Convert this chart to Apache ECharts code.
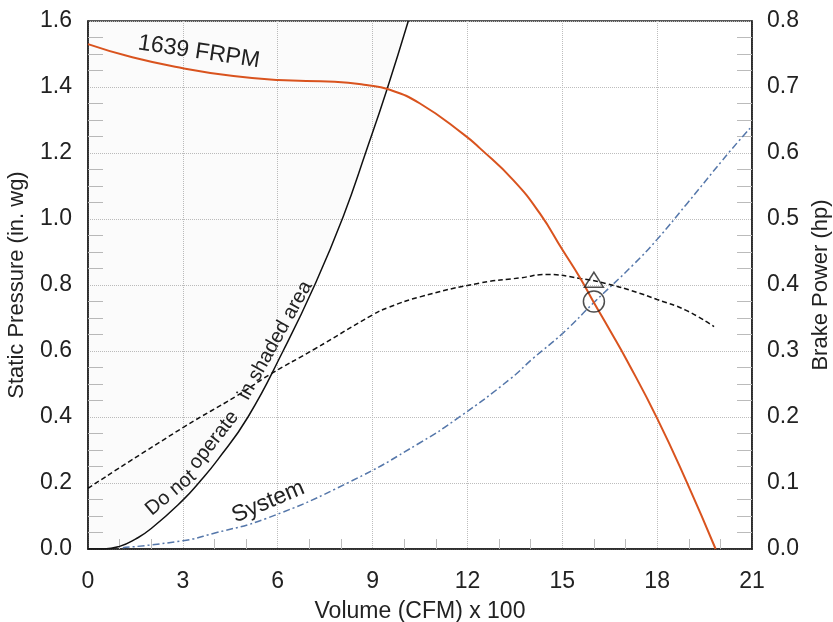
<!DOCTYPE html>
<html><head><meta charset="utf-8">
<script src="https://cdn.jsdelivr.net/npm/echarts@6/dist/echarts.min.js"></script>
<style>html,body{margin:0;padding:0;background:#fff}#c{width:833px;height:622px}</style>
</head><body><div id="c"></div>
<script>
// ---- data ----
const xTicks = [0, 3, 6, 9, 12, 15, 18, 21];
const spTicks = [0, 0.2, 0.4, 0.6, 0.8, 1.0, 1.2, 1.4, 1.6];
const bhpTicks = [0, 0.1, 0.2, 0.3, 0.4, 0.5, 0.6, 0.7, 0.8];

// fan curve 1639 FRPM: static pressure (in. wg) vs volume (CFM x 100)
const fanX  = [0, 1.4, 3.0, 4.6, 6.0, 7.8, 8.8, 9.5, 10.5, 11.9, 12.4, 13.45, 14.29, 15.01, 15.56, 15.98, 16.51, 17.04, 18.0, 18.93, 19.85];
const fanSP = [1.53, 1.49, 1.457, 1.433, 1.421, 1.416, 1.406, 1.393, 1.35, 1.255, 1.214, 1.118, 1.017, 0.906, 0.822, 0.75, 0.662, 0.572, 0.396, 0.204, 0.0];

// "do not operate" limit curve (static pressure)
const limX  = [0, 0.5, 1.0, 1.5, 2.0, 3.0, 3.5, 4.1, 5.06, 6.17, 7.17, 8.07, 8.81, 9.45, 10.13];
const limSP = [0, 0, 0.008, 0.03, 0.062, 0.148, 0.2, 0.27, 0.4, 0.6, 0.8, 1.007, 1.209, 1.391, 1.6];

// system curve (static pressure)
const sysX  = [1.1, 3.0, 3.96, 5.65, 8.29, 10.5, 11.76, 13.35, 14.08, 15.03, 15.98, 17.25, 17.98, 18.93, 20.3, 20.94];
const sysSP = [0.004, 0.025, 0.047, 0.093, 0.204, 0.322, 0.401, 0.515, 0.578, 0.655, 0.745, 0.862, 0.936, 1.045, 1.205, 1.275];

// brake power curve (hp)
const bhpX = [0, 3.04, 4.74, 5.74, 7.17, 9.01, 9.5, 10.5, 12.4, 13.7, 14.5, 15.56, 16.4, 17.35, 18.0, 18.9, 19.8];
const bhp  = [0.092, 0.185, 0.233, 0.264, 0.303, 0.355, 0.366, 0.382, 0.403, 0.411, 0.416, 0.410, 0.402, 0.389, 0.378, 0.362, 0.337];

// operating point
const opX = [16.0];
const opSP = [0.75];
const opBHP = [0.408];

// ---- chart ----
const FONT = 'Liberation Sans, Arial, Helvetica, sans-serif';
const TXT = '#222';
const zip = (a, b) => a.map((v, i) => [v, b[i]]);
const chart = echarts.init(document.getElementById('c'));

const gridLine = { show: true, lineStyle: { type: 'dotted', color: '#bdbdbd', width: 1 } };
const axisLine = { show: true, lineStyle: { color: '#222', width: 1.5 } };

chart.setOption({
  animation: false,
  backgroundColor: '#fff',
  grid: { left: 88, right: 81, top: 21, bottom: 73, containLabel: false, outerBoundsMode: 'none',
          show: true, borderColor: '#222', borderWidth: 1.5, backgroundColor: 'transparent' },
  xAxis: {
    type: 'value', min: xTicks[0], max: xTicks[xTicks.length - 1], interval: 3,
    name: 'Volume (CFM) x 100', nameLocation: 'middle', nameGap: 51,
    nameTextStyle: { fontFamily: FONT, fontSize: 23, color: TXT },
    axisLine, axisTick: { show: false },
    minorTick: { show: true, splitNumber: 3, length: -10, lineStyle: { color: '#bbb' } },
    axisLabel: { margin: 21, fontFamily: FONT, fontSize: 23, color: TXT },
    splitLine: gridLine
  },
  yAxis: [{
    type: 'value', min: spTicks[0], max: spTicks[spTicks.length - 1], interval: 0.2, position: 'left',
    name: 'Static Pressure (in. wg)', nameLocation: 'middle', nameGap: 60,
    nameTextStyle: { fontFamily: FONT, fontSize: 22, color: TXT },
    axisLine, axisTick: { show: false },
    minorTick: { show: true, splitNumber: 4, length: -15, lineStyle: { color: '#bbb' } },
    axisLabel: { margin: 16, fontFamily: FONT, fontSize: 23, color: TXT, formatter: v => v.toFixed(1) },
    splitLine: gridLine
  }, {
    type: 'value', min: bhpTicks[0], max: bhpTicks[bhpTicks.length - 1], interval: 0.1, position: 'right',
    name: 'Brake Power (hp)', nameLocation: 'middle', nameGap: 57,
    nameTextStyle: { fontFamily: FONT, fontSize: 22, color: TXT },
    axisLine, axisTick: { show: false },
    minorTick: { show: true, splitNumber: 4, length: -15, lineStyle: { color: '#bbb' } },
    axisLabel: { margin: 15, fontFamily: FONT, fontSize: 23, color: TXT, formatter: v => v.toFixed(1) },
    splitLine: { show: false }
  }],
  series: [
    {
      name: 'limit', type: 'line', data: zip(limX, limSP), yAxisIndex: 0,
      showSymbol: false, smooth: 0.5, z: 3,
      lineStyle: { color: '#111', width: 1.5 },
      areaStyle: { origin: 'end', color: 'rgba(0,0,0,0.025)' }
    },
    {
      name: 'system', type: 'line', data: zip(sysX, sysSP), yAxisIndex: 0,
      showSymbol: false, smooth: 0.5, z: 4,
      lineStyle: { color: '#5577aa', width: 1.5, type: [7, 3, 2, 3] }
    },
    {
      name: 'bhp', type: 'line', data: zip(bhpX, bhp), yAxisIndex: 1,
      showSymbol: false, smooth: 0.5, z: 4,
      lineStyle: { color: '#111', width: 1.5, type: [5, 3] }
    },
    {
      name: 'fan', type: 'line', data: zip(fanX, fanSP), yAxisIndex: 0,
      showSymbol: false, smooth: 0.5, z: 5,
      lineStyle: { color: '#d9531e', width: 2 }
    },
    {
      name: 'opSP', type: 'scatter', data: zip(opX, opSP), yAxisIndex: 0, z: 6,
      symbol: 'circle', symbolSize: 21,
      itemStyle: { color: 'rgba(0,0,0,0)', borderColor: '#222', borderWidth: 1.5 }
    },
    {
      name: 'opBHP', type: 'scatter', data: zip(opX, opBHP), yAxisIndex: 1, z: 6,
      symbol: 'triangle', symbolSize: [19, 15],
      itemStyle: { color: 'rgba(0,0,0,0)', borderColor: '#222', borderWidth: 1.5 }
    }
  ]
});

// ---- annotations (placed in data units) ----
const notes = [
  { text: '1639 FRPM', x: 3.51, y: 1.506, rot: -8.5, size: 23 },
  { text: 'Do not', x: 2.62, y: 0.17, rot: 40, size: 20 },
  { text: 'operate', x: 3.98, y: 0.33, rot: 52, size: 20 },
  { text: 'in shaded area', x: 5.92, y: 0.632, rot: 61, size: 20 },
  { text: 'System', x: 5.70, y: 0.143, rot: 23, size: 23 }
];
chart.setOption({
  graphic: notes.map(n => {
    const p = chart.convertToPixel({ xAxisIndex: 0, yAxisIndex: 0 }, [n.x, n.y]);
    return {
      type: 'text', x: p[0], y: p[1], rotation: n.rot * Math.PI / 180, z: 50,
      style: { text: n.text, fontFamily: FONT, fontSize: n.size, fill: TXT, align: 'center', verticalAlign: 'middle' }
    };
  })
});
</script></body></html>
